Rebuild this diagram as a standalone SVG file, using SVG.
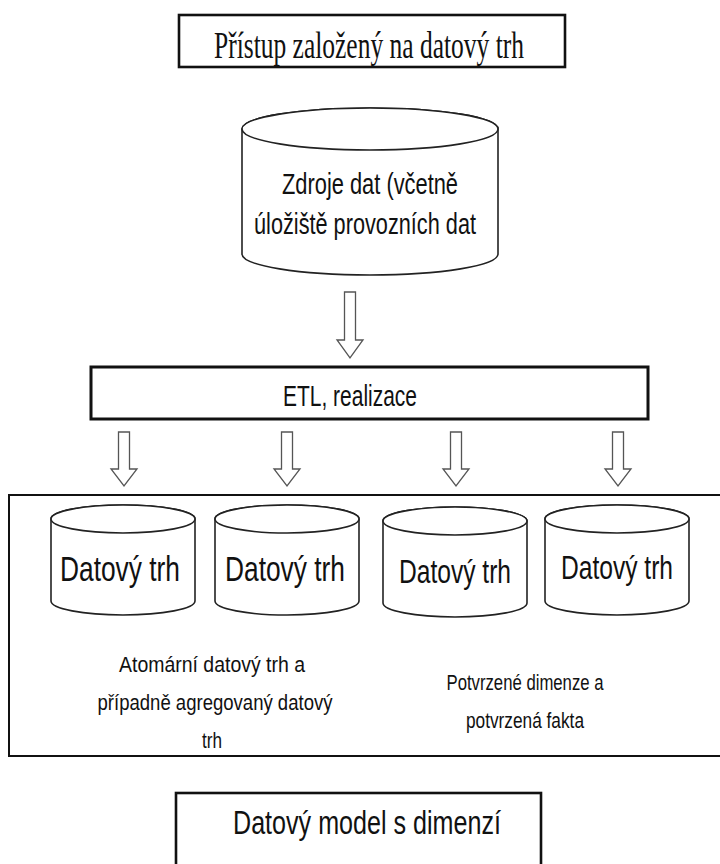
<svg xmlns="http://www.w3.org/2000/svg" width="720" height="864" viewBox="0 0 720 864">
  <style>
    .box { fill: #ffffff; stroke: #111111; }
    .cyl { fill: #ffffff; stroke: #222222; stroke-width: 1.6; }
    .arrow { fill: #ffffff; stroke: #555555; stroke-width: 1.3; stroke-linejoin: miter; }
    .serif { font-family: "Liberation Serif", "Times New Roman", serif; fill: #111111; }
    .sans { font-family: "Liberation Sans", Arial, sans-serif; fill: #111111; }
  </style>
  <defs>
    <path id="arrowLong" d="M-5.5,0 H5.5 V48 H13 L0,66 L-13,48 H-5.5 Z"/>
    <path id="arrowShort" d="M-5.5,0 H5.5 V37 H13 L0,54 L-13,37 H-5.5 Z"/>
    <g id="mart">
      <path d="M-72,0 A72,14 0 0 1 72,0 V82 A72,14 0 0 1 -72,82 Z"/>
      <ellipse cx="0" cy="0" rx="72" ry="14"/>
    </g>
  </defs>

  <rect width="720" height="864" fill="#ffffff"/>

  <!-- title box -->
  <g id="title">
    <rect class="box" x="179" y="15" width="386" height="52" stroke-width="2.6"/>
    <text class="serif" x="369" y="58" font-size="38" text-anchor="middle" textLength="310" lengthAdjust="spacingAndGlyphs">Přístup založený na datový trh</text>
  </g>

  <!-- source data store -->
  <g id="sources" class="cyl">
    <path d="M242,129 A128,21 0 0 1 498,129 V254 A128,21 0 0 1 242,254 Z"/>
    <ellipse cx="370" cy="129" rx="128" ry="21"/>
  </g>
  <g id="sources-label" class="sans" font-size="29" text-anchor="middle">
    <text x="370" y="194" textLength="176" lengthAdjust="spacingAndGlyphs">Zdroje dat (včetně</text>
    <text x="365" y="234" textLength="222" lengthAdjust="spacingAndGlyphs">úložiště provozních dat</text>
  </g>

  <!-- ETL box -->
  <g id="etl">
    <rect class="box" x="91" y="367" width="557" height="52" stroke-width="3"/>
    <text class="sans" x="350" y="406" font-size="29" text-anchor="middle" textLength="134" lengthAdjust="spacingAndGlyphs">ETL, realizace</text>
  </g>

  <!-- data mart container -->
  <g id="marts-area">
    <rect class="box" x="9" y="495" width="716" height="261" stroke-width="2"/>
  </g>

  <g id="mart1" class="cyl"><use href="#mart" x="123" y="519"/>
    <text class="sans" x="120" y="581" font-size="35" text-anchor="middle" textLength="120" lengthAdjust="spacingAndGlyphs" stroke="none">Datový trh</text></g>
  <g id="mart2" class="cyl"><use href="#mart" x="287" y="519"/>
    <text class="sans" x="285" y="581" font-size="35" text-anchor="middle" textLength="120" lengthAdjust="spacingAndGlyphs" stroke="none">Datový trh</text></g>
  <g id="mart3" class="cyl"><use href="#mart" x="455" y="521"/>
    <text class="sans" x="455" y="583" font-size="33" text-anchor="middle" textLength="112" lengthAdjust="spacingAndGlyphs" stroke="none">Datový trh</text></g>
  <g id="mart4" class="cyl"><use href="#mart" x="617" y="519"/>
    <text class="sans" x="617" y="579" font-size="33" text-anchor="middle" textLength="112" lengthAdjust="spacingAndGlyphs" stroke="none">Datový trh</text></g>

  <g id="note-left" class="sans" font-size="22" text-anchor="middle">
    <text x="212" y="672" textLength="186" lengthAdjust="spacingAndGlyphs">Atomární datový trh  a</text>
    <text x="215" y="710" textLength="235" lengthAdjust="spacingAndGlyphs">případně agregovaný datový</text>
    <text x="212" y="748" textLength="20" lengthAdjust="spacingAndGlyphs">trh</text>
  </g>
  <g id="note-right" class="sans" font-size="22" text-anchor="middle">
    <text x="525" y="690" textLength="157" lengthAdjust="spacingAndGlyphs">Potvrzené dimenze a</text>
    <text x="525" y="728" textLength="118" lengthAdjust="spacingAndGlyphs">potvrzená fakta</text>
  </g>

  <!-- dimensional model box -->
  <g id="model">
    <rect class="box" x="176" y="793" width="365" height="90" stroke-width="2.6"/>
    <text class="sans" x="367" y="834" font-size="33" text-anchor="middle" textLength="268" lengthAdjust="spacingAndGlyphs">Datový model s dimenzí</text>
  </g>

  <!-- connectors -->
  <g id="connectors" class="arrow">
    <use href="#arrowLong" x="350" y="292"/>
    <use href="#arrowShort" x="124" y="432"/>
    <use href="#arrowShort" x="287" y="432"/>
    <use href="#arrowShort" x="456" y="432"/>
    <use href="#arrowShort" x="618" y="432"/>
  </g>
</svg>
